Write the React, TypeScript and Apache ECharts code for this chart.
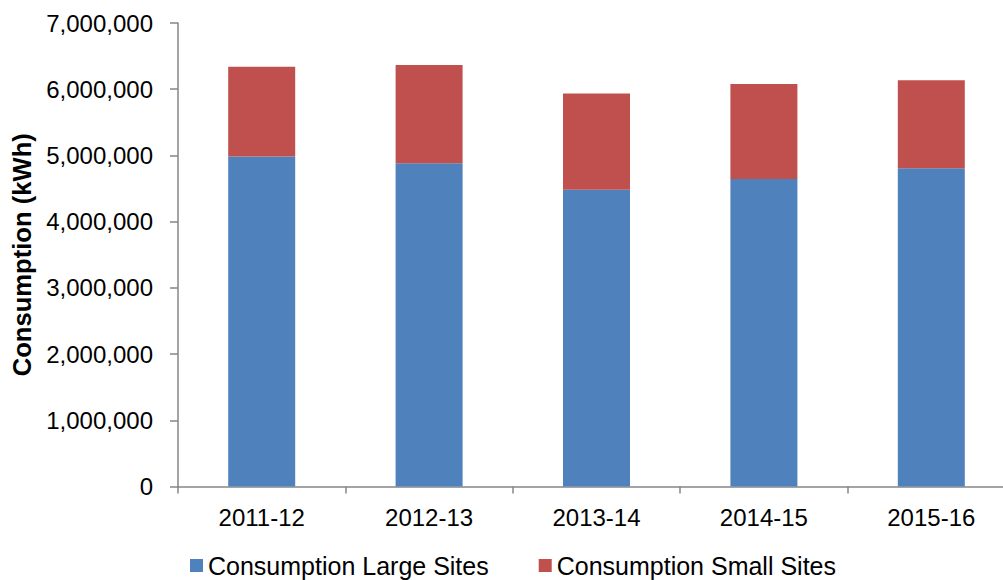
import React, { useEffect, useRef } from "react";
import * as echarts from "echarts";

const categories = ["2011-12", "2012-13", "2013-14", "2014-15", "2015-16"];
const largeSites = [4982000, 4882000, 4483000, 4645000, 4807000];
const smallSites = [1359000, 1485000, 1451000, 1435000, 1329000];
const seriesNames = ["Consumption Large Sites", "Consumption Small Sites"];
const yAxisTitle = "Consumption (kWh)";

const FONT = "'Liberation Sans', Arial, sans-serif";

export default function App() {
  const ref = useRef<HTMLDivElement>(null);
  useEffect(() => {
    document.body.style.overflow = "hidden";
    if (!ref.current) return;
    const chart = echarts.init(ref.current, null, { renderer: "svg" });
    chart.setOption({
      animation: false,
      backgroundColor: "#ffffff",
      textStyle: { fontFamily: FONT, color: "#000" },
      grid: { left: 178, top: 23, bottom: 93.5, right: 0, containLabel: false },
      legend: {
        left: 190,
        top: 553,
        itemWidth: 13,
        itemHeight: 13,
        itemGap: 50,
        icon: "rect",
        padding: 0,
        textStyle: { fontFamily: FONT, fontSize: 25, lineHeight: 20, color: "#000" },
        data: seriesNames,
      },
      xAxis: {
        type: "category",
        data: categories,
        axisLine: { lineStyle: { color: "#868686", width: 1.5 } },
        axisTick: { show: true, length: 7, lineStyle: { color: "#868686", width: 1.5 } },
        axisLabel: { fontFamily: FONT, fontSize: 24, color: "#000", margin: 19 },
      },
      yAxis: {
        type: "value",
        min: 0,
        max: 7000000,
        interval: 1000000,
        name: yAxisTitle,
        nameLocation: "middle",
        nameGap: 143,
        nameRotate: 90,
        nameTextStyle: { fontFamily: FONT, fontSize: 25.6, fontWeight: "bold", color: "#000" },
        axisLine: { show: true, lineStyle: { color: "#868686", width: 1.5 } },
        axisTick: { show: true, length: 8, lineStyle: { color: "#868686", width: 1.5 } },
        splitLine: { show: false },
        axisLabel: {
          fontFamily: FONT,
          fontSize: 24,
          color: "#000",
          margin: 25,
          formatter: (v: number) => v.toLocaleString("en-US"),
        },
      },
      series: [
        {
          name: seriesNames[0],
          type: "bar",
          stack: "total",
          data: largeSites,
          barWidth: 67,
          itemStyle: { color: "#4F81BD" },
        },
        {
          name: seriesNames[1],
          type: "bar",
          stack: "total",
          data: smallSites,
          barWidth: 67,
          itemStyle: { color: "#C0504D" },
        },
      ],
    });
    return () => chart.dispose();
  }, []);
  return (
    <div
      ref={ref}
      style={{ position: "fixed", left: 0, top: 0, width: 1015, height: 580 }}
    />
  );
}
